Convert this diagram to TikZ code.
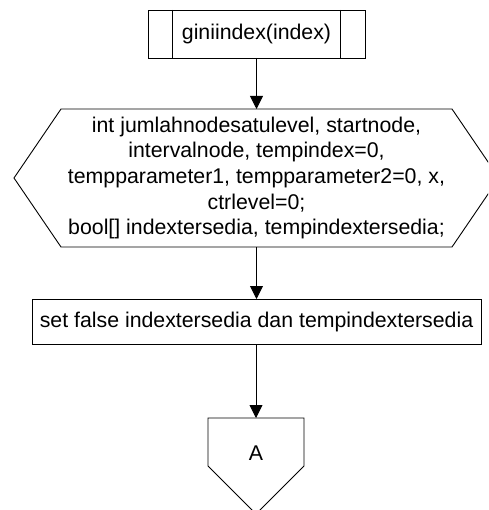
\documentclass[tikz,border=0pt]{standalone}
\usepackage{fontspec}
\setmainfont{Liberation Sans}
\usetikzlibrary{arrows.meta}
\begin{document}
\begin{tikzpicture}[x=1pt,y=-1pt,
  every node/.style={inner sep=0pt,outer sep=0pt,align=center,
    font=\fontsize{21.3}{25.7}\selectfont},
  shape line/.style={draw=black,line width=0.9pt,line join=miter},
  flow/.style={draw=black,line width=0.9pt,-{Triangle[width=13pt,length=13pt]}}]
  \clip (0,0) rectangle (488,510);
  \fill[white] (0,0) rectangle (488,510);

  % predefined process: procedure header
  \node[shape line,minimum width=217pt,minimum height=48pt] (start) at (256.5,34) {giniindex(index)};
  \draw[shape line] ([xshift=24.7pt]start.north west) -- ([xshift=24.7pt]start.south west);
  \draw[shape line] ([xshift=-24.7pt]start.north east) -- ([xshift=-24.7pt]start.south east);

  % preparation hexagon: variable declarations
  \node[minimum width=391pt,minimum height=138pt] (decl) at (256.5,178)
    {int jumlahnodesatulevel, startnode,\\
     intervalnode, tempindex=0,\\
     tempparameter1, tempparameter2=0, x,\\
     ctrlevel=0;\\
     bool[] indextersedia, tempindextersedia;};
  \draw[shape line] (decl.north west) -- (decl.north east) -- ([xshift=47pt]decl.east)
    -- (decl.south east) -- (decl.south west) -- ([xshift=-47pt]decl.west) -- cycle;

  % process box
  \node[shape line,minimum width=449pt,minimum height=45pt] (init) at (256.5,321.5)
    {set false indextersedia dan tempindextersedia};

  % off-page connector
  \node[minimum width=96pt,minimum height=70pt] (conA) at (256,453) {A};
  \draw[shape line] (conA.north west) -- (conA.north east) -- ([yshift=22pt]conA.south east)
    -- ([yshift=-26pt]conA.south) -- ([yshift=22pt]conA.south west) -- cycle;

  % connectors
  \draw[flow] (start.south -| decl.north) -- (decl.north);
  \draw[flow] (decl.south) -- (decl.south |- init.north);
  \draw[flow] (init.south -| conA.north) -- (conA.north);
\end{tikzpicture}
\end{document}
